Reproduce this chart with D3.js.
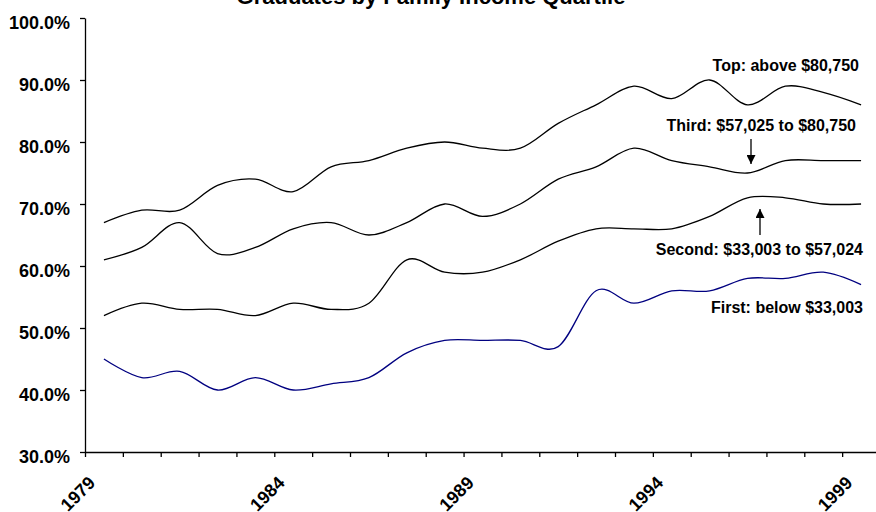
<!DOCTYPE html>
<html>
<head>
<meta charset="utf-8">
<script src="https://cdn.jsdelivr.net/npm/d3@7"></script>
<style>
  html, body { margin: 0; padding: 0; background: #fff; }
  svg { display: block; font-family: "Liberation Sans", Arial, sans-serif; }
</style>
</head>
<body>
<svg id="chart" width="876" height="512"></svg>
<script>
// Graduation rates by family income quartile, 1979-1999 (percent)
const years = [1979, 1980, 1981, 1982, 1983, 1984, 1985, 1986, 1987, 1988, 1989,
               1990, 1991, 1992, 1993, 1994, 1995, 1996, 1997, 1998, 1999];
const topQuartile    = [67, 69, 69, 73, 74, 72, 76, 77, 79, 80, 79, 79, 83, 86, 89, 87, 90, 86, 89, 88, 86];
const thirdQuartile  = [61, 63, 67, 62, 63, 66, 67, 65, 67, 70, 68, 70, 74, 76, 79, 77, 76, 75, 77, 77, 77];
const secondQuartile = [52, 54, 53, 53, 52, 54, 53, 54, 61, 59, 59, 61, 64, 66, 66, 66, 68, 71, 71, 70, 70];
const firstQuartile  = [45, 42, 43, 40, 42, 40, 41, 42, 46, 48, 48, 48, 47, 56, 54, 56, 56, 58, 58, 59, 57];

const yTicks = [30, 40, 50, 60, 70, 80, 90, 100];
const yearLabels = [1979, 1984, 1989, 1994, 1999];

const chartTitle = "Graduates by Family Income Quartile";
const seriesLabels = {
  top: "Top: above $80,750",
  third: "Third: $57,025 to $80,750",
  second: "Second: $33,003 to $57,024",
  first: "First: below $33,003"
};

const svg = d3.select("#chart");
const plotLeft = 85, plotRight = 880, plotTop = 18, plotBottom = 452;

// each year occupies one category slot; ticks sit on slot boundaries
const x = d3.scaleLinear().domain([years[0] - 0.5, years[years.length - 1] + 0.5]).range([plotLeft, plotRight]);
const y = d3.scaleLinear().domain([30, 100]).range([plotBottom, plotTop]);

// title (partly above the page edge)
svg.append("text")
  .attr("x", 431).attr("y", 4)
  .attr("text-anchor", "middle")
  .attr("font-size", 22).attr("font-weight", "bold")
  .text(chartTitle);

// y axis
const yAxis = svg.append("g")
  .attr("transform", `translate(${plotLeft},0)`)
  .call(d3.axisLeft(y).tickValues(yTicks).tickSize(5).tickSizeOuter(0).tickPadding(10)
    .tickFormat(d => d.toFixed(1) + "%"));
yAxis.selectAll("text").attr("font-size", 18).attr("font-weight", "bold")
  .attr("font-family", "Liberation Sans, Arial, sans-serif").attr("fill", "#000").attr("dy", "0.58em");
yAxis.selectAll("line, path").attr("stroke", "#000").attr("stroke-width", 1.3);

// x axis: boundary ticks
const boundaries = d3.range(years[0] - 0.5, years[years.length - 1] + 1, 1);
const xAxis = svg.append("g")
  .attr("transform", `translate(0,${plotBottom})`)
  .call(d3.axisBottom(x).tickValues(boundaries).tickSize(5).tickSizeOuter(0).tickFormat(""));
xAxis.selectAll("line, path").attr("stroke", "#000").attr("stroke-width", 1.3);

// x axis: rotated year labels
const xLabels = svg.append("g")
  .attr("transform", `translate(0,${plotBottom})`)
  .call(d3.axisBottom(x).tickValues(yearLabels).tickSize(0).tickFormat(d3.format("d")));
xLabels.select("path").remove();
xLabels.selectAll("text")
  .attr("font-size", 18).attr("font-weight", "bold")
  .attr("font-family", "Liberation Sans, Arial, sans-serif").attr("fill", "#000")
  .attr("text-anchor", "end")
  .attr("dy", null).attr("y", 0)
  .attr("transform", "translate(-8,32) rotate(-45)");

// smoothed series lines
const line = d3.line()
  .x((d, i) => x(years[i]))
  .y(d => y(d))
  .curve(d3.curveCardinal.tension(0));

const series = [
  { values: topQuartile, color: "#000" },
  { values: thirdQuartile, color: "#000" },
  { values: secondQuartile, color: "#000" },
  { values: firstQuartile, color: "#000080" }
];
svg.append("g").selectAll("path")
  .data(series).join("path")
  .attr("d", d => line(d.values))
  .attr("fill", "none")
  .attr("stroke", d => d.color)
  .attr("stroke-width", 1.3);

// series labels
const labelData = [
  { text: seriesLabels.top, x: 859, y: 71 },
  { text: seriesLabels.third, x: 856, y: 131 },
  { text: seriesLabels.second, x: 863, y: 255 },
  { text: seriesLabels.first, x: 863, y: 313 }
];
svg.append("g").selectAll("text")
  .data(labelData).join("text")
  .attr("x", d => d.x).attr("y", d => d.y)
  .attr("text-anchor", "end")
  .attr("font-size", 16).attr("font-weight", "bold")
  .text(d => d.text);

// arrows pointing to the middle two lines
const defs = svg.append("defs");
defs.append("marker")
  .attr("id", "arrowhead")
  .attr("viewBox", "0 0 10 10")
  .attr("refX", 10).attr("refY", 5)
  .attr("markerWidth", 9).attr("markerHeight", 9)
  .attr("markerUnits", "userSpaceOnUse")
  .attr("orient", "auto")
  .append("path").attr("d", "M0,0 L10,5 L0,10 Z").attr("fill", "#000");

const arrows = [
  { x1: 751, y1: 139, x2: 751, y2: 164 },
  { x1: 760, y1: 235, x2: 760, y2: 209 }
];
svg.append("g").selectAll("line")
  .data(arrows).join("line")
  .attr("x1", d => d.x1).attr("y1", d => d.y1)
  .attr("x2", d => d.x2).attr("y2", d => d.y2)
  .attr("stroke", "#000").attr("stroke-width", 1.3)
  .attr("marker-end", "url(#arrowhead)");
</script>
</body>
</html>
